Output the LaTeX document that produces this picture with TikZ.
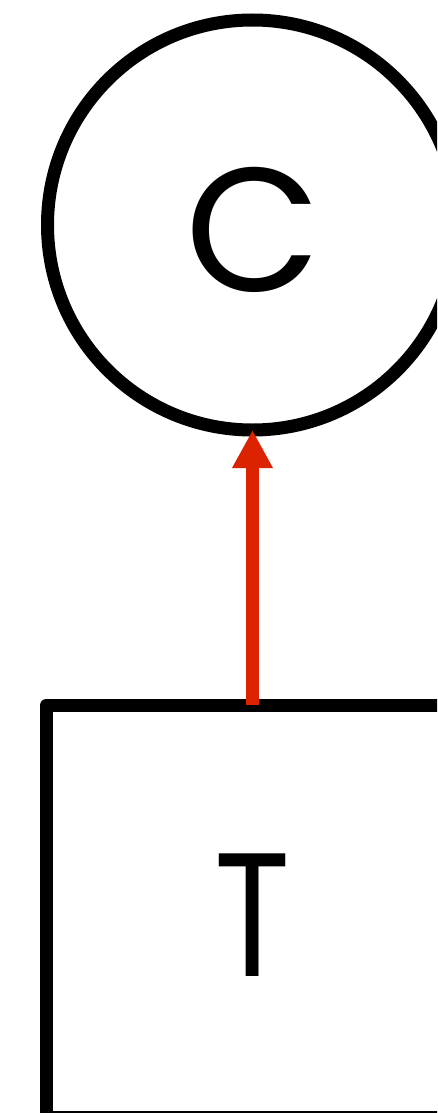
\documentclass[tikz,border=0pt]{standalone}
\usepackage{fontspec}
\setmainfont{Poppins}
\usetikzlibrary{arrows.meta}
\definecolor{arrowred}{RGB}{220,35,0}
\tikzset{
  circnode/.style={circle, draw=black, line width=13pt, minimum size=410pt, inner sep=0pt, outer sep=0pt},
  boxnode/.style={rectangle, draw=black, line width=13pt, minimum width=412pt, minimum height=412pt, inner sep=0pt, outer sep=0pt, line join=round},
  lbl/.style={font=\fontsize{176}{176}\selectfont, inner sep=0pt},
  redarrow/.style={draw=arrowred, line width=13pt, -{Triangle[length=38pt,width=38pt]}}
}
\begin{document}
\begin{tikzpicture}[x=1pt,y=-1pt]
\useasboundingbox (0,0) rectangle (437,1113);
\clip (0,0) rectangle (437,1113);
\fill[white] (0,0) rectangle (437,1113);
\node[circnode] (c) at (252.5,225) {};
\node[lbl] (cl) at (253,230) {C};
\node[boxnode] (t) at (252.5,911) {};
\node[lbl, xscale=0.8] (tl) at (252.5,915.5) {T};
\draw[redarrow] (t.north) -- (c.south);
\end{tikzpicture}
\end{document}
